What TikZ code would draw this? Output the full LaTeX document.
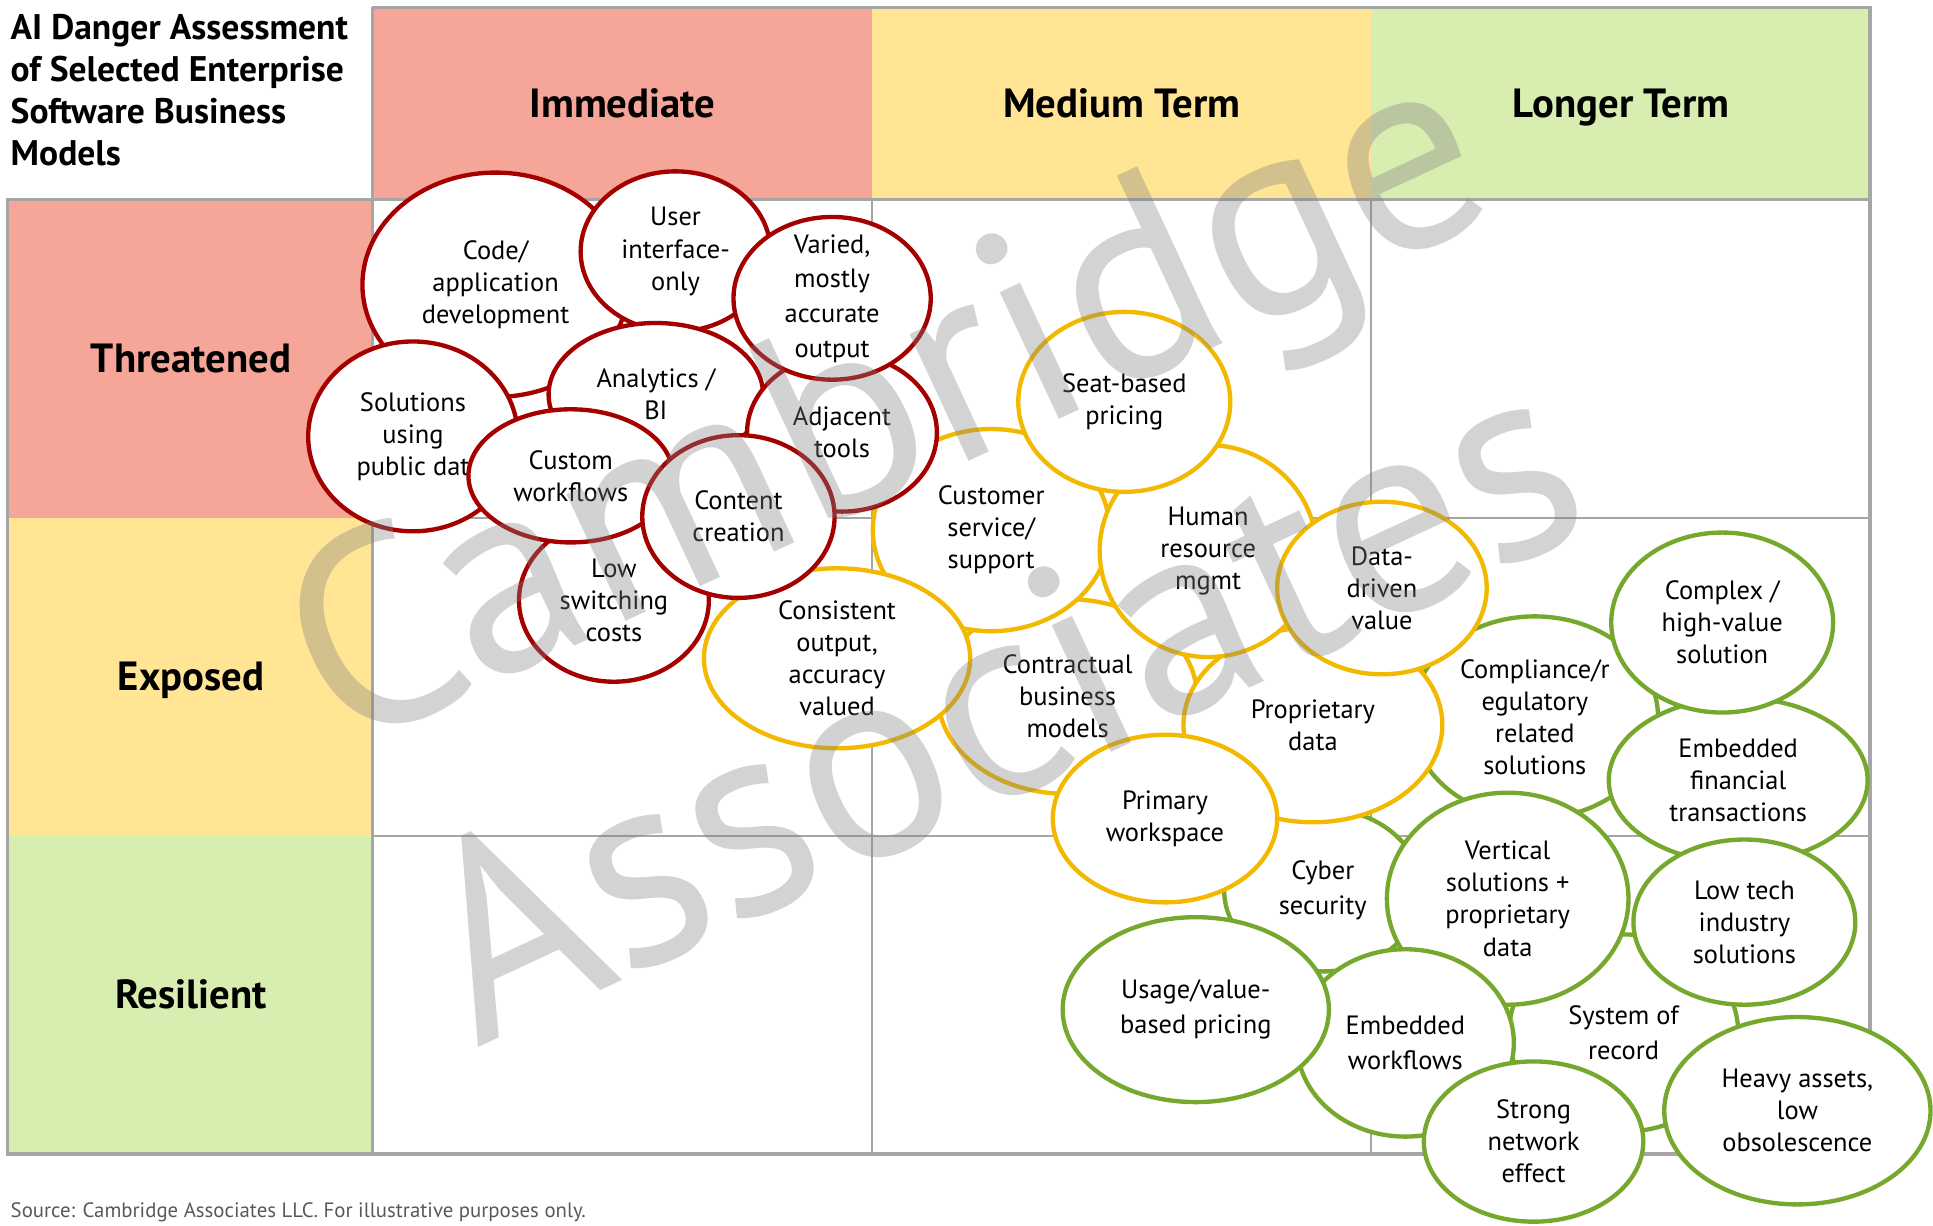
\documentclass[tikz,border=0pt]{standalone}
\usepackage{fontspec}
\setmainfont{PT Sans}
\usetikzlibrary{positioning}

\definecolor{hotfill}{HTML}{F5A698}
\definecolor{warmfill}{HTML}{FFE594}
\definecolor{coolfill}{HTML}{D8EDB0}
\definecolor{hotline}{HTML}{A50000}
\definecolor{warmline}{HTML}{F2B900}
\definecolor{coolline}{HTML}{76A82E}
\definecolor{gridgray}{HTML}{A6A6A6}

\tikzset{
  gridline/.style={gridgray, line width=.45pt},
  frameline/.style={gridgray, line width=.8pt},
  bubble/.style={fill=white, line width=1pt},
  bubtext/.style={align=center, inner sep=0pt, font=\fontsize{6.1}{7.4}\selectfont},
  loose/.style={font=\fontsize{6.1}{8}\selectfont},
  headlbl/.style={anchor=base, inner sep=0pt, font=\fontsize{9.4}{11}\selectfont\bfseries},
  stamp/.style={anchor=base, inner sep=0pt, rotate=25, text=black!50,
    text opacity=.35, font=\fontsize{64.5}{65}\selectfont},
}

% ellipse with its text on top: [text style]{name}{colour}{centre}{radii}{text}
\newcommand{\bubble}[6][]{%
  \draw[bubble, draw=#3] (#4) ellipse (#5);
  \node[bubtext, #1] (#2) at (#4) {#6};
}

\begin{document}
\begin{tikzpicture}[x=0.01cm, y=-0.01cm]
\useasboundingbox (0,0) rectangle (1568,994);

% header and row colours
\fill[hotfill] (302,6) rectangle (707,162);
\fill[warmfill] (707,6) rectangle (1112,162);
\fill[coolfill] (1112,6) rectangle (1517,162);
\fill[hotfill] (6,162) rectangle (302,420);
\fill[warmfill] (6,420) rectangle (302,678);
\fill[coolfill] (6,678) rectangle (302,936);

% grid
\draw[gridline] (707,162) -- (707,936);
\draw[gridline] (1112,162) -- (1112,936);
\draw[gridline] (302,420) -- (1517,420);
\draw[gridline] (302,678) -- (1517,678);
\draw[frameline] (302,6) -- (1517,6) -- (1517,936) -- (6,936) -- (6,162) -- (1517,162);
\draw[frameline] (302,6) -- (302,936);

% titles
\node[anchor=north west, inner sep=0pt, align=left, font=\fontsize{8.2}{9.7}\selectfont\bfseries]
  (title) at (8,11) {AI Danger Assessment\\of Selected Enterprise\\Software Business\\Models};
\node[headlbl] (immediate) at (505,95) {Immediate};
\node[headlbl] (medium) at (910,95) {Medium Term};
\node[headlbl] (longer) at (1315,95) {Longer Term};
\node[headlbl] (threatened) at (155,302) {Threatened};
\node[headlbl] (exposed) at (155,560) {Exposed};
\node[headlbl] (resilient) at (155,818) {Resilient};

% resilient models
\bubble[loose]{cyber}{coolline}{1073,722}{80 and 66}{Cyber\\security}
\bubble[loose]{sysrec}{coolline}{1317,838}{93 and 80}{System of\\record}
\bubble{compliance}{coolline}{1245,582}{100 and 82}{Compliance/r\\egulatory\\related\\solutions}
\bubble{vertical}{coolline}{1223,729}{98 and 86}{Vertical\\solutions +\\proprietary\\data}
\bubble[loose]{embwork}{coolline}{1140,846}{88 and 76}{Embedded\\workflows}
\bubble[loose]{usage}{coolline}{970,819}{108 and 75}{Usage/value-\\based pricing}
\bubble{strong}{coolline}{1244,926}{89 and 65}{Strong\\network\\effect}
\bubble{heavy}{coolline}{1458,901}{108 and 76}{Heavy assets,\\low\\obsolescence}
\bubble{embfin}{coolline}{1410,633}{105 and 67}{Embedded\\financial\\transactions}
\bubble{complex}{coolline}{1397,505}{90 and 73}{Complex /\\high-value\\solution}
\bubble{lowtech}{coolline}{1415,748}{90 and 67}{Low tech\\industry\\solutions}

% exposed models
\bubble{contract}{warmline}{866,565}{105 and 79}{Contractual\\business\\models}
\bubble{propdata}{warmline}{1065,588}{105 and 79}{Proprietary\\data}
\bubble{customer}{warmline}{804,430}{96 and 82}{Customer\\service/\\support}
\bubble{consistent}{warmline}{679,534}{108 and 73}{Consistent\\output,\\accuracy\\valued}
\bubble{human}{warmline}{980,447}{88 and 86}{Human\\resource\\mgmt}
\bubble{seat}{warmline}{912,326}{86 and 73}{Seat-based\\pricing}
\bubble{datadriven}{warmline}{1121,477}{85 and 70}{Data-\\driven\\value}
\bubble{primary}{warmline}{945,664}{91 and 68}{Primary\\workspace}

% threatened models
\bubble{code}{hotline}{402,231}{108 and 91}{Code/\\application\\development}
\bubble{ui}{hotline}{548,204}{77 and 65}{User\\interface-\\only}
\bubble{analytics}{hotline}{532,320}{87 and 58}{Analytics /\\BI}
\bubble{adjacent}{hotline}{683,351}{77 and 64}{Adjacent\\tools}
\bubble[loose]{varied}{hotline}{675,242}{80 and 66}{Varied,\\mostly\\accurate\\output}
\bubble{solutions}{hotline}{335,354}{85 and 77}{Solutions\\using\\public dat}
\bubble{lowswitch}{hotline}{498,487}{77 and 66}{Low\\switching\\costs}
\bubble{custom}{hotline}{463,386}{83 and 54}{Custom\\workflows}
\bubble{content}{hotline}{599,419}{78 and 66}{Content\\creation}

% footer
\node[anchor=base west, inner sep=0pt, text=black!65, font=\fontsize{4.8}{6}\selectfont]
  (source) at (8,988) {Source: Cambridge Associates LLC. For illustrative purposes only.};

% watermark
\node[stamp] (stampa) at (748,392) {Cambridge};
\node[stamp] (stampb) at (842,638) {Associates};

\end{tikzpicture}
\end{document}
